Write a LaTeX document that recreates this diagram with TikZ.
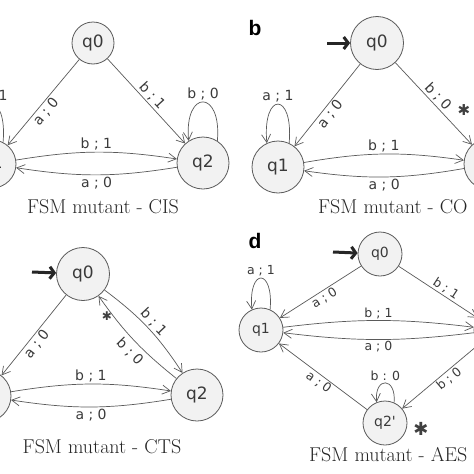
\documentclass[tikz,border=0pt]{standalone}
\usepackage{fontspec}
\newfontfamily\dejavu{DejaVu Sans}
\newfontfamily\lsans{Liberation Sans}
\usetikzlibrary{arrows.meta}
\definecolor{linegray}{HTML}{5A5A5A}
\definecolor{fillgray}{HTML}{F2F2F2}
\definecolor{textgray}{HTML}{3A3A3A}
\begin{document}
\begin{tikzpicture}[x=1pt,y=1pt,
  st/.style={circle, draw=linegray, fill=fillgray, line width=0.8pt, inner sep=0pt,
    font=\dejavu\fontsize{17}{17}\selectfont, text=textgray},
  sts/.style={st, font=\dejavu\fontsize{14}{14}\selectfont},
  tr/.style={draw=linegray, line width=0.7pt, -{Straight Barb[length=8pt,width=9pt]}},
  lbl/.style={font=\dejavu\fontsize{14}{14}\selectfont, text=textgray, inner sep=1.5pt},
  lbls/.style={lbl, font=\dejavu\fontsize{12.5}{12.5}\selectfont},
  init/.style={draw=black!85, line width=3pt, -{Straight Barb[length=4.5pt,width=12pt]}},
  captxt/.style={font=\fontsize{20}{20}\selectfont, text=black!85, inner sep=0pt},
  plet/.style={font=\lsans\bfseries\fontsize{21}{21}\selectfont, inner sep=0pt},
  starm/.style={font=\dejavu\fontsize{18}{18}\selectfont, text=black!75, inner sep=0pt},
]
\useasboundingbox (0,0) rectangle (474,-474);
\fill[white] (0,0) rectangle (474,-474);
\clip (0,0) rectangle (474,-474);

% ---------------- panel a ----------------
\node[st, minimum size=42pt] (a0) at (93,-43) {q0};
\node[st, minimum size=48pt] (a1) at (-8,-164) {q1};
\node[st, minimum size=52pt] (a2) at (203,-163) {q2};
\draw[tr] (a0) -- node[lbl, sloped, below, pos=0.55] {a ; 0} (a1);
\draw[tr] (a0) -- node[lbl, sloped, above] {b ; 1} (a2);
\draw[tr] (a2.57) .. controls +(85:52) and +(95:52) .. node[lbl, above] {b ; 0} (a2.123);
\draw[tr] (a1.63) .. controls +(85:51) and +(95:51) .. node[lbl, above] {a ; 1} (a1.117);
\draw[tr] (a1) to[bend left=9] node[lbl, above] {b ; 1} (a2);
\draw[tr] (a2) to[bend left=9] node[lbl, below] {a ; 0} (a1);
\node[captxt] (capa) at (103,-207) {FSM mutant - CIS};

% ---------------- panel b ----------------
\node[plet] (pb) at (255,-28) {b};
\node[st, minimum size=53pt] (b0) at (377,-43) {q0};
\node[st, minimum size=52pt] (b1) at (278,-167) {q1};
\node[st, minimum size=52pt] (b2) at (490,-164) {q2};
\coordinate (bi) at (327,-43);
\draw[init] (bi) -- (b0);
\draw[tr] (b0) -- node[lbl, sloped, below, pos=0.55] {a ; 0} (b1);
\draw[tr] (b0) -- node[lbl, sloped, above, pos=0.48] {b ; 0} (b2);
\node[starm, font=\dejavu\fontsize{15}{15}\selectfont] (sb) at (464,-110) {✱};
\draw[tr] (b1.65) .. controls +(85:52) and +(95:52) .. node[lbl, above] {a ; 1} (b1.115);
\draw[tr] (b1) to[bend left=9] node[lbl, above] {b ; 1} (b2);
\draw[tr] (b2) to[bend left=9] node[lbl, below] {a ; 0} (b1);
\node[captxt, anchor=west] (capb) at (318,-207) {FSM mutant - CO};

% ---------------- panel c ----------------
\node[st, minimum size=53pt] (c0) at (83,-274) {q0};
\node[st, minimum size=52pt] (c1) at (-15,-396) {q1};
\node[st, minimum size=52pt] (c2) at (197,-395) {q2};
\coordinate (ci) at (32,-272);
\draw[init] (ci) -- (c0);
\draw[tr] (c0) -- node[lbl, sloped, below, pos=0.55] {a ; 0} (c1);
\draw[tr] (c0) to[bend left=10] node[lbl, sloped, above] {b ; 1} (c2);
\draw[tr] (c2) to[bend left=8] node[lbl, sloped, below=3pt, pos=0.45] {b ; 0} (c0);
\node[starm, font=\dejavu\fontsize{12}{12}\selectfont] (sc) at (107,-316) {✱};
\draw[tr] (c1) to[bend left=9] node[lbl, above] {b ; 1} (c2);
\draw[tr] (c2) to[bend left=9] node[lbl, below] {a ; 0} (c1);
\node[captxt] (capc) at (102,-447) {FSM mutant - CTS};

% ---------------- panel d ----------------
\node[plet] (pd) at (255,-241) {d};
\node[sts, minimum size=44pt] (d0) at (380,-254) {q0};
\node[sts, minimum size=44pt] (d1) at (261,-330) {q1};
\node[sts, minimum size=44pt] (d2) at (496,-330) {q2};
\node[sts, minimum size=44pt] (d3) at (385,-423) {q2'};
\coordinate (di) at (333,-252);
\draw[init] (di) -- (d0);
\draw[tr] (d0) -- node[lbls, sloped, below, pos=0.5] {a ; 0} (d1);
\draw[tr] (d0) -- node[lbls, sloped, above, pos=0.55] {b ; 1} (d2);
\draw[tr] (d1.66) .. controls +(85:42) and +(95:42) .. node[lbls, above] {a ; 1} (d1.114);
\draw[tr] (d1) to[bend left=7] node[lbls, above] {b ; 1} (d2);
\draw[tr] (d2) to[bend left=7] node[lbls, below] {a ; 0} (d1);
\draw[tr] (d2) -- node[lbls, sloped, below, pos=0.45] {b ; 0} (d3);
\draw[tr] (d3) -- node[lbls, sloped, below] {a ; 0} (d1);
\draw[tr] (d3.66) .. controls +(85:26) and +(95:26) .. node[lbls, above] {b : 0} (d3.112);
\node[starm] (sd) at (421,-429) {✱};
\node[captxt, anchor=west] (capd) at (309,-455) {FSM mutant - AES};
\end{tikzpicture}
\end{document}
